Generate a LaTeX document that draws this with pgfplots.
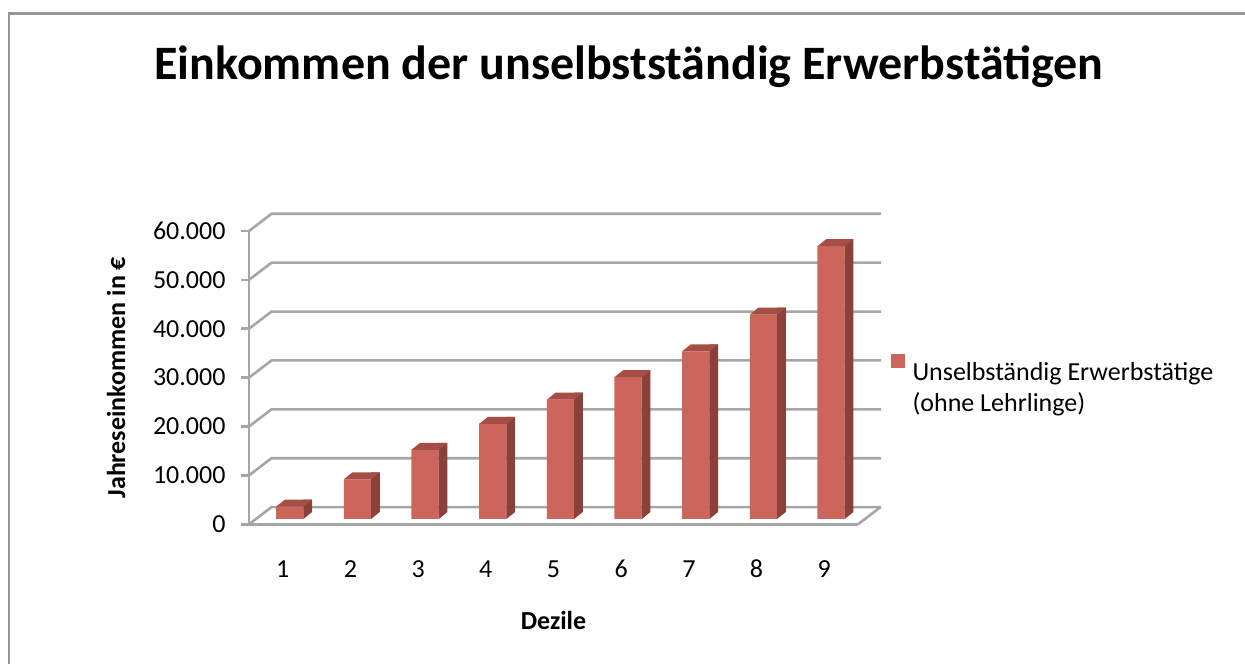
\documentclass[border=0pt]{standalone}
\usepackage{fontspec}
\setmainfont{Carlito}
\usepackage{pgfplots}
\usepackage{pgfplotstable}
\pgfplotsset{compat=1.18}

\definecolor{gridgray}{RGB}{166,166,166}
\definecolor{framegray}{RGB}{150,150,150}
\definecolor{barfront}{RGB}{204,102,92}
\definecolor{bartop}{RGB}{166,78,70}
\definecolor{barside}{RGB}{140,64,58}

\pgfplotstableread{
dezil wert
1 2520
2 8120
3 14150
4 19450
5 24400
6 29000
7 34300
8 41800
9 55800
}\einkommen

% top face of a bar (mark sits at back-top of the front face, shifted by depth)
\pgfdeclareplotmark{topface}{%
  \pgfpathmoveto{\pgfqpoint{-13.65pt}{-7pt}}%
  \pgfpathlineto{\pgfqpoint{13.65pt}{-7pt}}%
  \pgfpathlineto{\pgfqpoint{22.35pt}{0pt}}%
  \pgfpathlineto{\pgfqpoint{-4.95pt}{0pt}}%
  \pgfpathclose\pgfusepathqfill}
% lower triangle of the side face
\pgfdeclareplotmark{sidefoot}{%
  \pgfpathmoveto{\pgfqpoint{13.65pt}{-7pt}}%
  \pgfpathlineto{\pgfqpoint{13.65pt}{0pt}}%
  \pgfpathlineto{\pgfqpoint{22.35pt}{0pt}}%
  \pgfpathclose\pgfusepathqfill}

\newcommand\fs{\fontsize{26}{31}\selectfont}

\begin{document}
\begin{tikzpicture}
\useasboundingbox (0,0) rectangle (1245pt,664pt);
\fill[white] (0,0) rectangle (1245pt,664pt);
\draw[framegray, line width=2.5pt] (9pt,-2pt) -- (9pt,650.5pt) -- (1247pt,650.5pt);
\node[anchor=base, inner sep=0pt, font=\fontsize{48}{54}\selectfont\bfseries] at (629pt,584.7pt) {Einkommen der unselbstständig Erwerbstätigen};

% front plane: axes, ticks, back wall grid
\begin{axis}[
  at={(249pt,139.7pt)}, anchor=south west,
  width=609pt, height=293.3pt, scale only axis,
  xmin=0.5, xmax=9.5, ymin=0, ymax=60000,
  clip=false, scaled y ticks=false, scaled x ticks=false,
  axis x line*=bottom, axis y line*=left,
  axis line style={-, draw=gridgray, line width=2.6pt},
  xtick={1,2,3,4,5,6,7,8,9}, xticklabels={1,2,3,4,5,6,7,8,9},
  ytick={0,10000,20000,30000,40000,50000,60000},
  yticklabels={0,10.000,20.000,30.000,40.000,50.000,60.000},
  tick align=outside, major tick length=8pt,
  ytick style={draw=gridgray, line width=2.6pt},
  xtick style={draw=none},
  tick label style={font=\fs},
  xticklabel style={anchor=base, yshift=-44.7pt},
  yticklabel style={anchor=east, xshift=-12pt},
  xlabel={Dezile}, ylabel={Jahreseinkommen in €},
  label style={font=\fs\bfseries},
  xlabel style={at={(axis description cs:0.5,0)}, anchor=base, yshift=-104.7pt},
  ylabel style={at={(axis description cs:-0.2036,0.5)}, anchor=base},
]
\pgfplotsinvokeforeach{0,10000,20000,30000,40000,50000,60000}{
  \draw[gridgray, line width=2.6pt, line join=round] (axis cs:0.5,#1) -- ++(22.5pt,17.2pt) -- ++(609.5pt,0pt);
}
\draw[gridgray, line width=2.6pt] (axis cs:9.5,0) -- ++(22.5pt,17.2pt);
\end{axis}

% bar front faces, placed at mid depth
\begin{axis}[
  at={(255.9pt,145pt)}, anchor=south west,
  width=609pt, height=293.3pt, scale only axis,
  xmin=0.5, xmax=9.5, ymin=0, ymax=60000,
  clip=false, hide axis,
  legend style={at={(axis description cs:1.0424,0.5623)}, anchor=north west,
    draw=none, fill=none, inner sep=0pt, column sep=7.6pt,
    nodes={inner sep=0pt, font=\fs}, legend cell align=left},
  legend image code/.code={\fill[barfront] (0pt,2pt) rectangle (14pt,16pt);},
]
\addplot[ybar, bar width=27.3pt, bar shift=0pt, fill=barfront, draw=none]
  table[x=dezil, y=wert]{\einkommen};
\addlegendentry{\begin{tabular}[t]{@{}l@{}}Unselbständig Erwerbstätige\\(ohne Lehrlinge)\end{tabular}}
\end{axis}

% bar depth: side and top faces (same axis, shifted by the bar depth)
\begin{axis}[
  at={(255.9pt,152pt)}, anchor=south west,
  width=609pt, height=293.3pt, scale only axis,
  xmin=0.5, xmax=9.5, ymin=0, ymax=60000,
  clip=false, hide axis,
]
\addplot[ybar, bar width=8.7pt, bar shift=18pt, fill=barside, draw=none, forget plot]
  table[x=dezil, y=wert]{\einkommen};
\addplot[only marks, mark=sidefoot, mark options={fill=barside, draw=none}, forget plot]
  table[x=dezil, y expr=0]{\einkommen};
\addplot[only marks, mark=topface, mark options={fill=bartop, draw=none}, forget plot]
  table[x=dezil, y=wert]{\einkommen};
\end{axis}
\end{tikzpicture}
\end{document}
